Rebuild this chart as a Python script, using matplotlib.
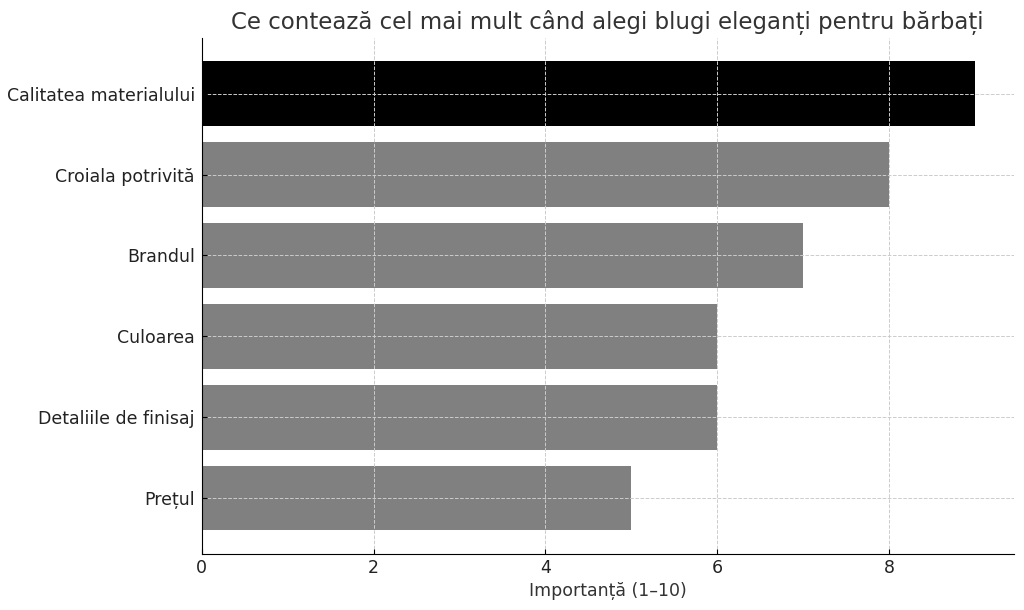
import matplotlib.pyplot as plt

categories = ["Calitatea materialului", "Croiala potrivită", "Brandul",
              "Culoarea", "Detaliile de finisaj", "Prețul"]
values = [9, 8, 7, 6, 6, 5]
bar_colors = ["black", "gray", "gray", "gray", "gray", "gray"]

fig, ax = plt.subplots(figsize=(10.24, 6.10), dpi=100)

ax.barh(categories[::-1], values[::-1], color=bar_colors[::-1], height=0.8)
ax.set_title("Ce contează cel mai mult când alegi blugi eleganți pentru bărbați",
             fontsize=16.5, color="#333333")
ax.set_xlabel("Importanță (1–10)", fontsize=12.5, color="#333333")
ax.tick_params(labelsize=12.5, labelcolor="#222222", direction="in")
ax.tick_params(axis="y", pad=5)
ax.grid(True, linestyle="--", color="#cccccc", linewidth=0.7)
ax.set_axisbelow("line")
ax.spines["top"].set_visible(False)
ax.spines["right"].set_visible(False)

plt.subplots_adjust(left=0.197, right=0.99, top=0.938, bottom=0.092)
plt.savefig("out.png")
